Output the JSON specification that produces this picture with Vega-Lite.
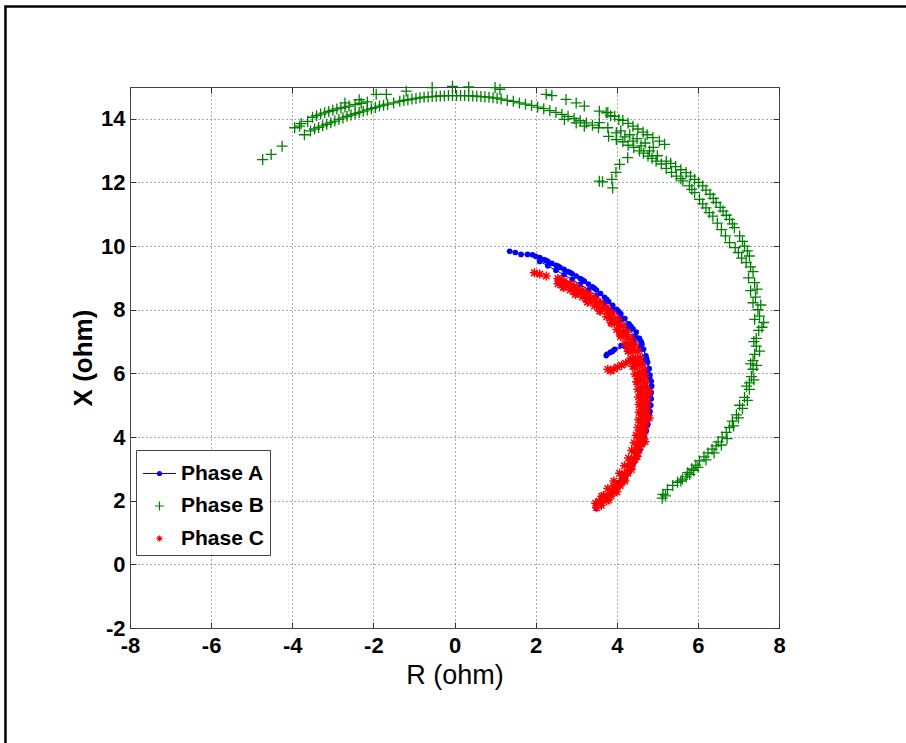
{
  "$schema": "https://vega.github.io/schema/vega-lite/v6.json",
  "width": 649,
  "height": 541,
  "autosize": "none",
  "padding": {"left": 130, "top": 87, "right": 127, "bottom": 115},
  "background": "white",
  "datasets": {
    "a": [
      {"i":1,"R":1.36,"X":9.84},{"i":2,"R":1.50,"X":9.80},{"i":3,"R":1.64,"X":9.74},{"i":4,"R":1.80,"X":9.74},{"i":5,"R":1.92,"X":9.73},
      {"i":6,"R":2.00,"X":9.68},{"i":7,"R":2.10,"X":9.64},{"i":8,"R":2.20,"X":9.58},{"i":9,"R":2.30,"X":9.52},{"i":10,"R":2.40,"X":9.46},
      {"i":11,"R":2.50,"X":9.40},{"i":12,"R":2.60,"X":9.33},{"i":13,"R":2.70,"X":9.27},{"i":14,"R":2.80,"X":9.20},{"i":15,"R":2.90,"X":9.13},
      {"i":16,"R":3.00,"X":9.06},{"i":17,"R":3.10,"X":8.98},{"i":18,"R":3.20,"X":8.90},{"i":19,"R":3.30,"X":8.81},{"i":20,"R":3.40,"X":8.72},
      {"i":21,"R":3.50,"X":8.62},{"i":22,"R":3.60,"X":8.51},{"i":23,"R":3.70,"X":8.39},{"i":24,"R":3.80,"X":8.26},{"i":25,"R":3.90,"X":8.14},
      {"i":26,"R":4.00,"X":8.01},{"i":27,"R":4.10,"X":7.87},{"i":28,"R":4.20,"X":7.72},{"i":29,"R":4.30,"X":7.56},{"i":30,"R":4.40,"X":7.40},
      {"i":31,"R":4.48,"X":7.30},{"i":32,"R":4.56,"X":7.10},{"i":33,"R":4.40,"X":7.00},{"i":34,"R":4.25,"X":6.93},{"i":35,"R":4.11,"X":6.88},
      {"i":36,"R":3.95,"X":6.76},{"i":37,"R":3.84,"X":6.66},{"i":38,"R":3.76,"X":6.60},{"i":39,"R":3.74,"X":6.56},{"i":40,"R":3.90,"X":6.70},
      {"i":41,"R":4.20,"X":6.85},{"i":42,"R":4.62,"X":6.92},{"i":43,"R":4.66,"X":6.76},{"i":44,"R":4.72,"X":6.55},{"i":45,"R":4.76,"X":6.35},
      {"i":46,"R":4.80,"X":6.15},{"i":47,"R":4.82,"X":5.95},{"i":48,"R":4.85,"X":5.75},{"i":49,"R":4.86,"X":5.60},{"i":50,"R":4.85,"X":5.40},
      {"i":51,"R":4.85,"X":5.20},{"i":52,"R":4.84,"X":5.00},{"i":53,"R":4.82,"X":4.80},{"i":54,"R":4.79,"X":4.60},{"i":55,"R":4.77,"X":4.40},
      {"i":56,"R":4.73,"X":4.20},{"i":57,"R":4.68,"X":4.00},{"i":58,"R":4.63,"X":3.80},{"i":59,"R":4.57,"X":3.60},{"i":60,"R":4.50,"X":3.40},
      {"i":61,"R":4.42,"X":3.20},{"i":62,"R":4.33,"X":3.00},{"i":63,"R":4.23,"X":2.80},{"i":64,"R":4.12,"X":2.60},{"i":65,"R":4.00,"X":2.41},
      {"i":66,"R":3.88,"X":2.24},{"i":67,"R":3.75,"X":2.07},{"i":68,"R":3.62,"X":1.91},{"i":69,"R":3.50,"X":1.76},{"i":70,"R":4.00,"X":2.55},
      {"i":71,"R":4.30,"X":3.10},{"i":72,"R":4.55,"X":3.80},{"i":73,"R":4.68,"X":4.40},{"i":74,"R":4.74,"X":5.00},{"i":75,"R":4.76,"X":5.50},
      {"i":76,"R":4.74,"X":6.00},{"i":77,"R":4.68,"X":6.40},{"i":78,"R":4.58,"X":6.80},{"i":79,"R":4.44,"X":7.15},{"i":80,"R":4.28,"X":7.45},
      {"i":81,"R":4.10,"X":7.72},{"i":82,"R":3.90,"X":7.98},{"i":83,"R":3.70,"X":8.22},{"i":84,"R":3.50,"X":8.44},{"i":85,"R":3.30,"X":8.63},
      {"i":86,"R":3.10,"X":8.80},{"i":87,"R":2.90,"X":8.95},{"i":88,"R":2.70,"X":9.10},{"i":89,"R":2.50,"X":9.24},{"i":90,"R":2.30,"X":9.38},
      {"i":91,"R":2.10,"X":9.52},{"i":92,"R":2.25,"X":9.55},{"i":93,"R":2.55,"X":9.37},{"i":94,"R":2.85,"X":9.17},{"i":95,"R":3.15,"X":8.94},
      {"i":96,"R":3.45,"X":8.67},{"i":97,"R":3.75,"X":8.33},{"i":98,"R":4.05,"X":7.94},{"i":99,"R":4.35,"X":7.48},{"i":100,"R":4.60,"X":7.00},
      {"i":101,"R":4.74,"X":6.45},{"i":102,"R":4.81,"X":5.85},{"i":103,"R":4.82,"X":5.30},{"i":104,"R":4.80,"X":4.70}
    ],
    "b": [
      {"R":-4.73,"X":12.72},{"R":-4.52,"X":12.88},{"R":-4.25,"X":13.14},{"R":-3.94,"X":13.72},{"R":-3.82,"X":13.77},{"R":-3.70,"X":13.50},
      {"R":-3.78,"X":13.85},{"R":-3.62,"X":13.92},{"R":-3.50,"X":14.05},{"R":-3.40,"X":14.10},{"R":-3.30,"X":14.15},{"R":-3.20,"X":14.19},
      {"R":-3.10,"X":14.23},{"R":-3.00,"X":14.27},{"R":-2.90,"X":14.31},{"R":-2.80,"X":14.34},{"R":-2.70,"X":14.37},{"R":-2.60,"X":14.40},
      {"R":-2.45,"X":14.45},{"R":-2.30,"X":14.49},{"R":-2.15,"X":14.53},{"R":-2.70,"X":14.50},{"R":-2.35,"X":14.60},{"R":-1.93,"X":14.77},
      {"R":-1.68,"X":14.77},{"R":-1.19,"X":14.87},{"R":-0.55,"X":14.98},{"R":-0.05,"X":15.02},{"R":0.35,"X":15.00},{"R":1.00,"X":14.98},
      {"R":1.12,"X":14.93},{"R":-3.55,"X":13.62},{"R":-3.45,"X":13.68},{"R":-3.35,"X":13.73},{"R":-3.25,"X":13.78},{"R":-3.15,"X":13.83},
      {"R":-3.05,"X":13.88},{"R":-2.95,"X":13.93},{"R":-2.85,"X":13.98},{"R":-2.75,"X":14.03},{"R":-2.65,"X":14.08},{"R":-2.55,"X":14.12},
      {"R":-2.45,"X":14.16},{"R":-2.35,"X":14.20},{"R":-2.25,"X":14.24},{"R":-2.15,"X":14.28},{"R":-2.05,"X":14.32},{"R":-1.95,"X":14.36},
      {"R":-1.85,"X":14.40},{"R":-1.75,"X":14.43},{"R":-1.65,"X":14.46},{"R":-1.50,"X":14.50},{"R":-1.35,"X":14.55},{"R":-1.25,"X":14.58},
      {"R":-1.15,"X":14.60},{"R":-1.05,"X":14.62},{"R":-0.95,"X":14.64},{"R":-0.85,"X":14.66},{"R":-0.75,"X":14.68},{"R":-0.65,"X":14.69},
      {"R":-0.55,"X":14.70},{"R":-0.45,"X":14.71},{"R":-0.35,"X":14.72},{"R":-0.25,"X":14.72},{"R":-0.15,"X":14.73},{"R":-0.05,"X":14.73},
      {"R":0.05,"X":14.73},{"R":0.15,"X":14.73},{"R":0.25,"X":14.73},{"R":0.35,"X":14.72},{"R":0.45,"X":14.72},{"R":0.55,"X":14.71},
      {"R":0.65,"X":14.70},{"R":0.75,"X":14.69},{"R":0.85,"X":14.68},{"R":0.95,"X":14.66},{"R":1.05,"X":14.65},{"R":1.15,"X":14.62},
      {"R":1.30,"X":14.58},{"R":1.45,"X":14.55},{"R":1.60,"X":14.50},{"R":1.75,"X":14.46},{"R":1.90,"X":14.42},{"R":2.05,"X":14.37},
      {"R":2.20,"X":14.32},{"R":2.35,"X":14.26},{"R":2.50,"X":14.20},{"R":2.65,"X":14.14},{"R":2.80,"X":14.08},{"R":2.95,"X":14.01},
      {"R":3.10,"X":13.94},{"R":3.25,"X":13.87},{"R":3.40,"X":13.80},{"R":3.55,"X":13.72},{"R":2.26,"X":14.77},{"R":2.40,"X":14.73},
      {"R":2.75,"X":14.61},{"R":3.00,"X":14.50},{"R":3.20,"X":14.40},{"R":3.57,"X":14.24},{"R":3.78,"X":14.20},{"R":2.71,"X":13.98},
      {"R":3.00,"X":13.87},{"R":3.20,"X":13.77},{"R":3.74,"X":14.19},{"R":3.95,"X":14.08},{"R":4.15,"X":13.95},{"R":4.40,"X":13.77},
      {"R":4.65,"X":13.58},{"R":4.89,"X":13.41},{"R":5.05,"X":13.30},{"R":5.18,"X":13.20},{"R":3.57,"X":13.88},{"R":3.78,"X":13.72},
      {"R":3.99,"X":13.56},{"R":4.20,"X":13.43},{"R":4.40,"X":13.30},{"R":4.60,"X":13.15},{"R":4.81,"X":12.99},{"R":5.00,"X":12.84},
      {"R":5.22,"X":12.67},{"R":5.45,"X":12.50},{"R":5.71,"X":12.31},{"R":5.92,"X":12.10},{"R":6.12,"X":11.89},{"R":6.30,"X":11.63},
      {"R":6.45,"X":11.37},{"R":6.62,"X":11.10},{"R":6.78,"X":10.84},{"R":6.90,"X":10.58},{"R":7.03,"X":10.32},{"R":7.15,"X":10.00},
      {"R":7.27,"X":9.69},{"R":3.80,"X":13.45},{"R":3.99,"X":13.35},{"R":4.28,"X":13.17},{"R":4.56,"X":12.99},{"R":4.77,"X":12.83},
      {"R":4.97,"X":12.67},{"R":5.22,"X":12.44},{"R":5.47,"X":12.20},{"R":5.63,"X":12.05},{"R":5.79,"X":11.89},{"R":5.92,"X":11.68},
      {"R":6.04,"X":11.47},{"R":6.20,"X":11.20},{"R":6.37,"X":10.94},{"R":6.58,"X":10.52},{"R":6.78,"X":10.11},{"R":7.00,"X":9.80},
      {"R":7.19,"X":9.48},{"R":3.57,"X":12.04},{"R":3.65,"X":12.02},{"R":3.90,"X":11.83},{"R":3.88,"X":12.10},{"R":3.98,"X":12.32},
      {"R":4.07,"X":12.57},{"R":4.27,"X":12.78},
      {"R":3.85,"X":14.10},{"R":4.05,"X":13.98},{"R":4.28,"X":13.86},{"R":4.52,"X":13.68},{"R":4.75,"X":13.50},{"R":4.10,"X":13.62},
      {"R":4.32,"X":13.50},{"R":4.50,"X":13.38},{"R":4.70,"X":13.24},{"R":4.90,"X":13.10},{"R":4.15,"X":13.28},{"R":4.42,"X":13.10},
      {"R":4.66,"X":12.92},{"R":4.87,"X":12.76},{"R":5.10,"X":12.58},{"R":5.33,"X":12.60},{"R":5.58,"X":12.40},{"R":5.82,"X":12.20},
      {"R":6.02,"X":12.00},{"R":6.20,"X":11.76},{"R":6.38,"X":11.50},{"R":6.55,"X":11.22},{"R":6.70,"X":10.97},{"R":6.85,"X":10.70},
      {"R":7.10,"X":10.15},{"R":7.22,"X":9.85},{"R":5.35,"X":12.32},{"R":5.58,"X":12.12},{"R":5.85,"X":11.78},{"R":6.12,"X":11.33},
      {"R":6.28,"X":11.05},{"R":6.48,"X":10.72},{"R":6.68,"X":10.32},{"R":6.92,"X":9.95},{"R":7.08,"X":9.62},
      {"R":7.36,"X":9.20},{"R":7.25,"X":9.00},{"R":7.40,"X":8.85},{"R":7.30,"X":8.60},{"R":7.42,"X":8.40},{"R":7.36,"X":8.22},
      {"R":7.48,"X":8.00},{"R":7.52,"X":7.80},{"R":7.40,"X":7.70},{"R":7.62,"X":7.60},{"R":7.50,"X":7.35},{"R":7.44,"X":7.10},
      {"R":7.38,"X":7.00},{"R":7.44,"X":6.86},{"R":7.40,"X":6.60},{"R":7.36,"X":6.40},{"R":7.30,"X":6.30},{"R":7.36,"X":6.13},
      {"R":7.32,"X":5.90},{"R":7.27,"X":5.70},{"R":7.20,"X":5.60},{"R":7.27,"X":5.50},{"R":7.15,"X":5.25},{"R":7.03,"X":5.00},
      {"R":7.10,"X":4.90},{"R":6.95,"X":4.70},{"R":6.85,"X":4.50},{"R":6.78,"X":4.30},{"R":6.70,"X":4.15},{"R":6.60,"X":4.00},
      {"R":6.50,"X":3.85},{"R":6.45,"X":3.72},{"R":6.35,"X":3.62},{"R":6.25,"X":3.50},{"R":6.15,"X":3.38},{"R":6.04,"X":3.25},
      {"R":5.95,"X":3.12},{"R":5.85,"X":3.00},{"R":5.75,"X":2.88},{"R":5.71,"X":2.75},{"R":5.62,"X":2.68},{"R":5.50,"X":2.58},
      {"R":5.38,"X":2.48},{"R":5.25,"X":2.35},{"R":5.14,"X":2.20},{"R":5.12,"X":2.08},{"R":5.20,"X":2.15},
      {"R":7.30,"X":9.35},{"R":7.46,"X":8.65},{"R":7.55,"X":8.15},{"R":7.58,"X":7.45},{"R":7.52,"X":6.70},{"R":7.45,"X":6.25},
      {"R":7.38,"X":5.80},{"R":7.22,"X":5.15},{"R":7.00,"X":4.60},{"R":6.88,"X":4.35},{"R":6.72,"X":3.95},{"R":6.58,"X":3.75},
      {"R":6.40,"X":3.50},{"R":6.20,"X":3.28},{"R":6.00,"X":3.05},{"R":5.80,"X":2.82},{"R":5.58,"X":2.62},{"R":5.90,"X":2.95}
    ],
    "c": [
      {"R":1.97,"X":9.16},{"R":2.10,"X":9.12},{"R":2.26,"X":9.06},{"R":2.55,"X":8.98},{"R":2.70,"X":8.90},{"R":2.85,"X":8.82},
      {"R":3.00,"X":8.72},{"R":3.15,"X":8.62},{"R":3.30,"X":8.50},{"R":3.45,"X":8.37},{"R":3.60,"X":8.22},{"R":3.75,"X":8.06},
      {"R":3.90,"X":7.88},{"R":4.03,"X":7.70},{"R":4.15,"X":7.50},{"R":4.26,"X":7.30},{"R":4.36,"X":7.10},{"R":4.45,"X":6.90},
      {"R":4.52,"X":6.70},{"R":4.58,"X":6.50},{"R":4.63,"X":6.30},{"R":4.67,"X":6.10},{"R":4.70,"X":5.90},{"R":4.72,"X":5.70},
      {"R":4.74,"X":5.50},{"R":4.75,"X":5.30},{"R":4.75,"X":5.10},{"R":4.75,"X":4.90},{"R":4.74,"X":4.70},{"R":4.72,"X":4.50},
      {"R":4.70,"X":4.30},{"R":4.67,"X":4.10},{"R":4.63,"X":3.90},{"R":4.58,"X":3.70},{"R":4.52,"X":3.50},{"R":4.45,"X":3.30},
      {"R":4.36,"X":3.10},{"R":4.26,"X":2.90},{"R":4.15,"X":2.70},{"R":4.02,"X":2.50},{"R":3.88,"X":2.30},{"R":3.74,"X":2.10},
      {"R":3.60,"X":1.92},{"R":3.50,"X":1.78},{"R":2.55,"X":8.82},{"R":2.70,"X":8.72},{"R":2.85,"X":8.62},{"R":3.00,"X":8.52},
      {"R":3.15,"X":8.40},{"R":3.30,"X":8.27},{"R":3.45,"X":8.12},{"R":3.60,"X":7.96},{"R":3.75,"X":7.78},{"R":3.88,"X":7.58},
      {"R":4.00,"X":7.38},{"R":4.10,"X":7.16},{"R":4.20,"X":6.94},{"R":4.28,"X":6.70},{"R":4.35,"X":6.46},{"R":4.40,"X":6.22},
      {"R":4.45,"X":5.98},{"R":4.49,"X":5.74},{"R":4.52,"X":5.50},{"R":4.54,"X":5.26},{"R":4.55,"X":5.02},{"R":4.55,"X":4.78},
      {"R":4.54,"X":4.54},{"R":4.52,"X":4.30},{"R":4.48,"X":4.06},{"R":4.43,"X":3.82},{"R":4.37,"X":3.58},{"R":4.29,"X":3.34},
      {"R":4.19,"X":3.10},{"R":4.07,"X":2.86},{"R":3.93,"X":2.62},{"R":3.78,"X":2.38},{"R":3.63,"X":2.14},{"R":3.48,"X":1.92},
      {"R":2.60,"X":8.88},{"R":2.90,"X":8.70},{"R":3.20,"X":8.48},{"R":3.50,"X":8.22},{"R":3.80,"X":7.90},{"R":4.05,"X":7.52},
      {"R":4.25,"X":7.12},{"R":4.40,"X":6.70},{"R":4.52,"X":6.26},{"R":4.60,"X":5.80},{"R":4.64,"X":5.34},{"R":4.65,"X":4.88},
      {"R":4.63,"X":4.42},{"R":4.57,"X":3.96},{"R":4.48,"X":3.50},{"R":4.35,"X":3.06},{"R":4.18,"X":2.66},{"R":3.98,"X":2.30},
      {"R":3.75,"X":2.00},{"R":3.78,"X":6.13},{"R":3.85,"X":6.08},{"R":3.93,"X":6.14},{"R":4.02,"X":6.20},{"R":4.12,"X":6.26},
      {"R":4.22,"X":6.32},{"R":4.32,"X":6.40},
      {"R":2.75,"X":8.80},{"R":3.05,"X":8.60},{"R":3.35,"X":8.36},{"R":3.65,"X":8.06},{"R":3.92,"X":7.70},{"R":4.15,"X":7.30},
      {"R":4.33,"X":6.90},{"R":4.46,"X":6.48},{"R":4.56,"X":6.04},{"R":4.62,"X":5.58},{"R":4.65,"X":5.12},{"R":4.65,"X":4.66},
      {"R":4.61,"X":4.20},{"R":4.53,"X":3.74},{"R":4.42,"X":3.30},{"R":4.27,"X":2.86},{"R":4.08,"X":2.48},{"R":3.86,"X":2.15},
      {"R":3.62,"X":1.85},{"R":2.65,"X":8.78},{"R":2.95,"X":8.58},{"R":3.25,"X":8.36},{"R":3.55,"X":8.08},{"R":3.83,"X":7.74},
      {"R":4.08,"X":7.30},{"R":4.28,"X":6.84},{"R":4.42,"X":6.38},{"R":4.51,"X":5.92},{"R":4.57,"X":5.44},{"R":4.60,"X":4.96},
      {"R":4.59,"X":4.48},{"R":4.55,"X":4.00},{"R":4.46,"X":3.58},{"R":4.33,"X":3.18},{"R":4.14,"X":2.80},{"R":3.92,"X":2.46},
      {"R":3.68,"X":2.16},{"R":3.56,"X":1.98},{"R":4.80,"X":5.40},{"R":4.80,"X":4.60},{"R":4.70,"X":3.85},
      {"R":2.58,"X":8.94},{"R":2.88,"X":8.76},{"R":3.18,"X":8.55},{"R":3.48,"X":8.30},{"R":3.78,"X":7.98},{"R":4.02,"X":7.62},
      {"R":4.22,"X":7.22},{"R":4.38,"X":6.82},{"R":4.50,"X":6.40},{"R":4.59,"X":5.98},{"R":4.66,"X":5.55},{"R":4.70,"X":5.10},
      {"R":4.70,"X":4.65},{"R":4.66,"X":4.20},{"R":4.60,"X":3.78},{"R":4.50,"X":3.38},{"R":4.36,"X":2.98},{"R":4.20,"X":2.62},
      {"R":4.00,"X":2.28},{"R":3.80,"X":2.02},
      {"R":2.68,"X":8.70},{"R":2.98,"X":8.48},{"R":3.28,"X":8.24},{"R":3.58,"X":7.96},{"R":3.86,"X":7.60},{"R":4.10,"X":7.20},
      {"R":4.30,"X":6.72},{"R":4.44,"X":6.22},{"R":4.53,"X":5.72},{"R":4.58,"X":5.22},{"R":4.60,"X":4.70},{"R":4.58,"X":4.20},
      {"R":4.52,"X":3.72},{"R":4.42,"X":3.28},{"R":4.27,"X":2.88},{"R":4.08,"X":2.52},{"R":3.86,"X":2.22},{"R":3.60,"X":1.95}
    ]
  },
  "layer": [
    {
      "data": {"name": "a"},
      "mark": {"type": "line", "color": "#0000ff", "strokeWidth": 1},
      "encoding": {
        "x": {"field": "R", "type": "quantitative", "scale": {"domain": [-8, 8], "nice": false, "zero": false},
              "axis": {"orient": "bottom", "values": [-8, -6, -4, -2, 0, 2, 4, 6, 8], "grid": true, "title": "R (ohm)", "titlePadding": 6, "labelPadding": 13}},
        "y": {"field": "X", "type": "quantitative", "scale": {"domain": [-2, 15], "nice": false, "zero": false},
              "axis": {"orient": "left", "values": [-2, 0, 2, 4, 6, 8, 10, 12, 14], "grid": true, "title": "X (ohm)", "titlePadding": 4, "titleFontWeight": "bold", "titleFontSize": 26}},
        "order": {"field": "i", "type": "quantitative"}
      }
    },
    {
      "data": {"name": "a"},
      "mark": {"type": "point", "shape": "circle", "filled": true, "size": 32, "opacity": 1, "color": "#0000ff"},
      "encoding": {
        "x": {"field": "R", "type": "quantitative", "axis": null},
        "y": {"field": "X", "type": "quantitative", "axis": null}
      }
    },
    {
      "data": {"name": "b"},
      "mark": {"type": "point", "filled": false, "size": 1550, "strokeWidth": 1.3, "opacity": 1},
      "encoding": {
        "x": {"field": "R", "type": "quantitative", "axis": null},
        "y": {"field": "X", "type": "quantitative", "axis": null},
        "color": {"datum": "Phase B", "type": "nominal", "title": null,
                  "scale": {"domain": ["Phase A", "Phase B", "Phase C"], "range": ["#0000ff", "#008000", "#ff0000"]}},
        "shape": {"datum": "Phase B", "type": "nominal", "title": null,
                  "scale": {"domain": ["Phase A", "Phase B", "Phase C"],
                            "range": ["M-1,0H1M-0.12,0A0.12,0.12 0 1 1 0.12,0A0.12,0.12 0 1 1 -0.12,0M-0.06,0A0.06,0.06 0 1 1 0.06,0A0.06,0.06 0 1 1 -0.06,0",
                                      "M-0.28,0H0.28M0,-0.28V0.28",
                                      "M-0.18,0H0.18M0,-0.18V0.18M-0.13,-0.13L0.13,0.13M-0.13,0.13L0.13,-0.13"]}}
      }
    },
    {
      "data": {"name": "c"},
      "mark": {"type": "point", "filled": false, "size": 2500, "strokeWidth": 1.5, "opacity": 1},
      "encoding": {
        "x": {"field": "R", "type": "quantitative", "axis": null},
        "y": {"field": "X", "type": "quantitative", "axis": null},
        "color": {"datum": "Phase C", "type": "nominal", "title": null},
        "shape": {"datum": "Phase C", "type": "nominal", "title": null}
      }
    },
    {
      "mark": {"type": "rule", "color": "black", "strokeWidth": 1.5},
      "encoding": {
        "x": {"datum": 0, "type": "quantitative",
              "axis": {"orient": "top", "values": [-8, -6, -4, -2, 0, 2, 4, 6, 8], "labels": false, "grid": false, "title": null}}
      }
    },
    {
      "mark": {"type": "rule", "color": "black", "strokeWidth": 2},
      "encoding": {
        "y": {"datum": 0, "type": "quantitative",
              "axis": {"orient": "right", "values": [-2, 0, 2, 4, 6, 8, 10, 12, 14], "labels": false, "grid": false, "title": null}}
      }
    },
    {
      "data": {"values": [{"left": -11.07, "right": 11.4, "top": 17.53, "bottom": -6.0}]},
      "mark": {"type": "rect", "fill": null, "stroke": "black", "strokeWidth": 2.5, "opacity": 1},
      "encoding": {
        "x": {"field": "left", "type": "quantitative", "axis": null},
        "x2": {"field": "right"},
        "y": {"field": "top", "type": "quantitative", "axis": null},
        "y2": {"field": "bottom"}
      }
    }
  ],
  "config": {
    "font": "Liberation Sans",
    "view": {"stroke": "#444444", "strokeWidth": 1},
    "axis": {
      "domain": false,
      "ticks": true,
      "tickSize": -6,
      "tickColor": "#333333",
      "tickWidth": 1,
      "gridColor": "#555555",
      "gridDash": [1, 3],
      "gridWidth": 1,
      "labelFont": "Liberation Sans Narrow, Liberation Sans",
      "labelFontWeight": "bold",
      "labelFontSize": 22,
      "labelColor": "black",
      "labelPadding": 11,
      "labelFlush": false,
      "labelOverlap": false,
      "labelExpr": "'' + datum.value",
      "titleFont": "Liberation Sans",
      "titleFontWeight": "normal",
      "titleFontSize": 27,
      "titleColor": "black"
    },
    "legend": {
      "orient": "none",
      "legendX": 6,
      "legendY": 363,
      "padding": 6,
      "fillColor": "white",
      "strokeColor": "#444444",
      "symbolSize": 1090,
      "symbolStrokeWidth": 1.2,
      "labelFont": "Liberation Sans",
      "labelFontWeight": "bold",
      "labelFontSize": 21,
      "labelColor": "black",
      "labelOffset": 4,
      "rowPadding": 4.5
    }
  }
}
